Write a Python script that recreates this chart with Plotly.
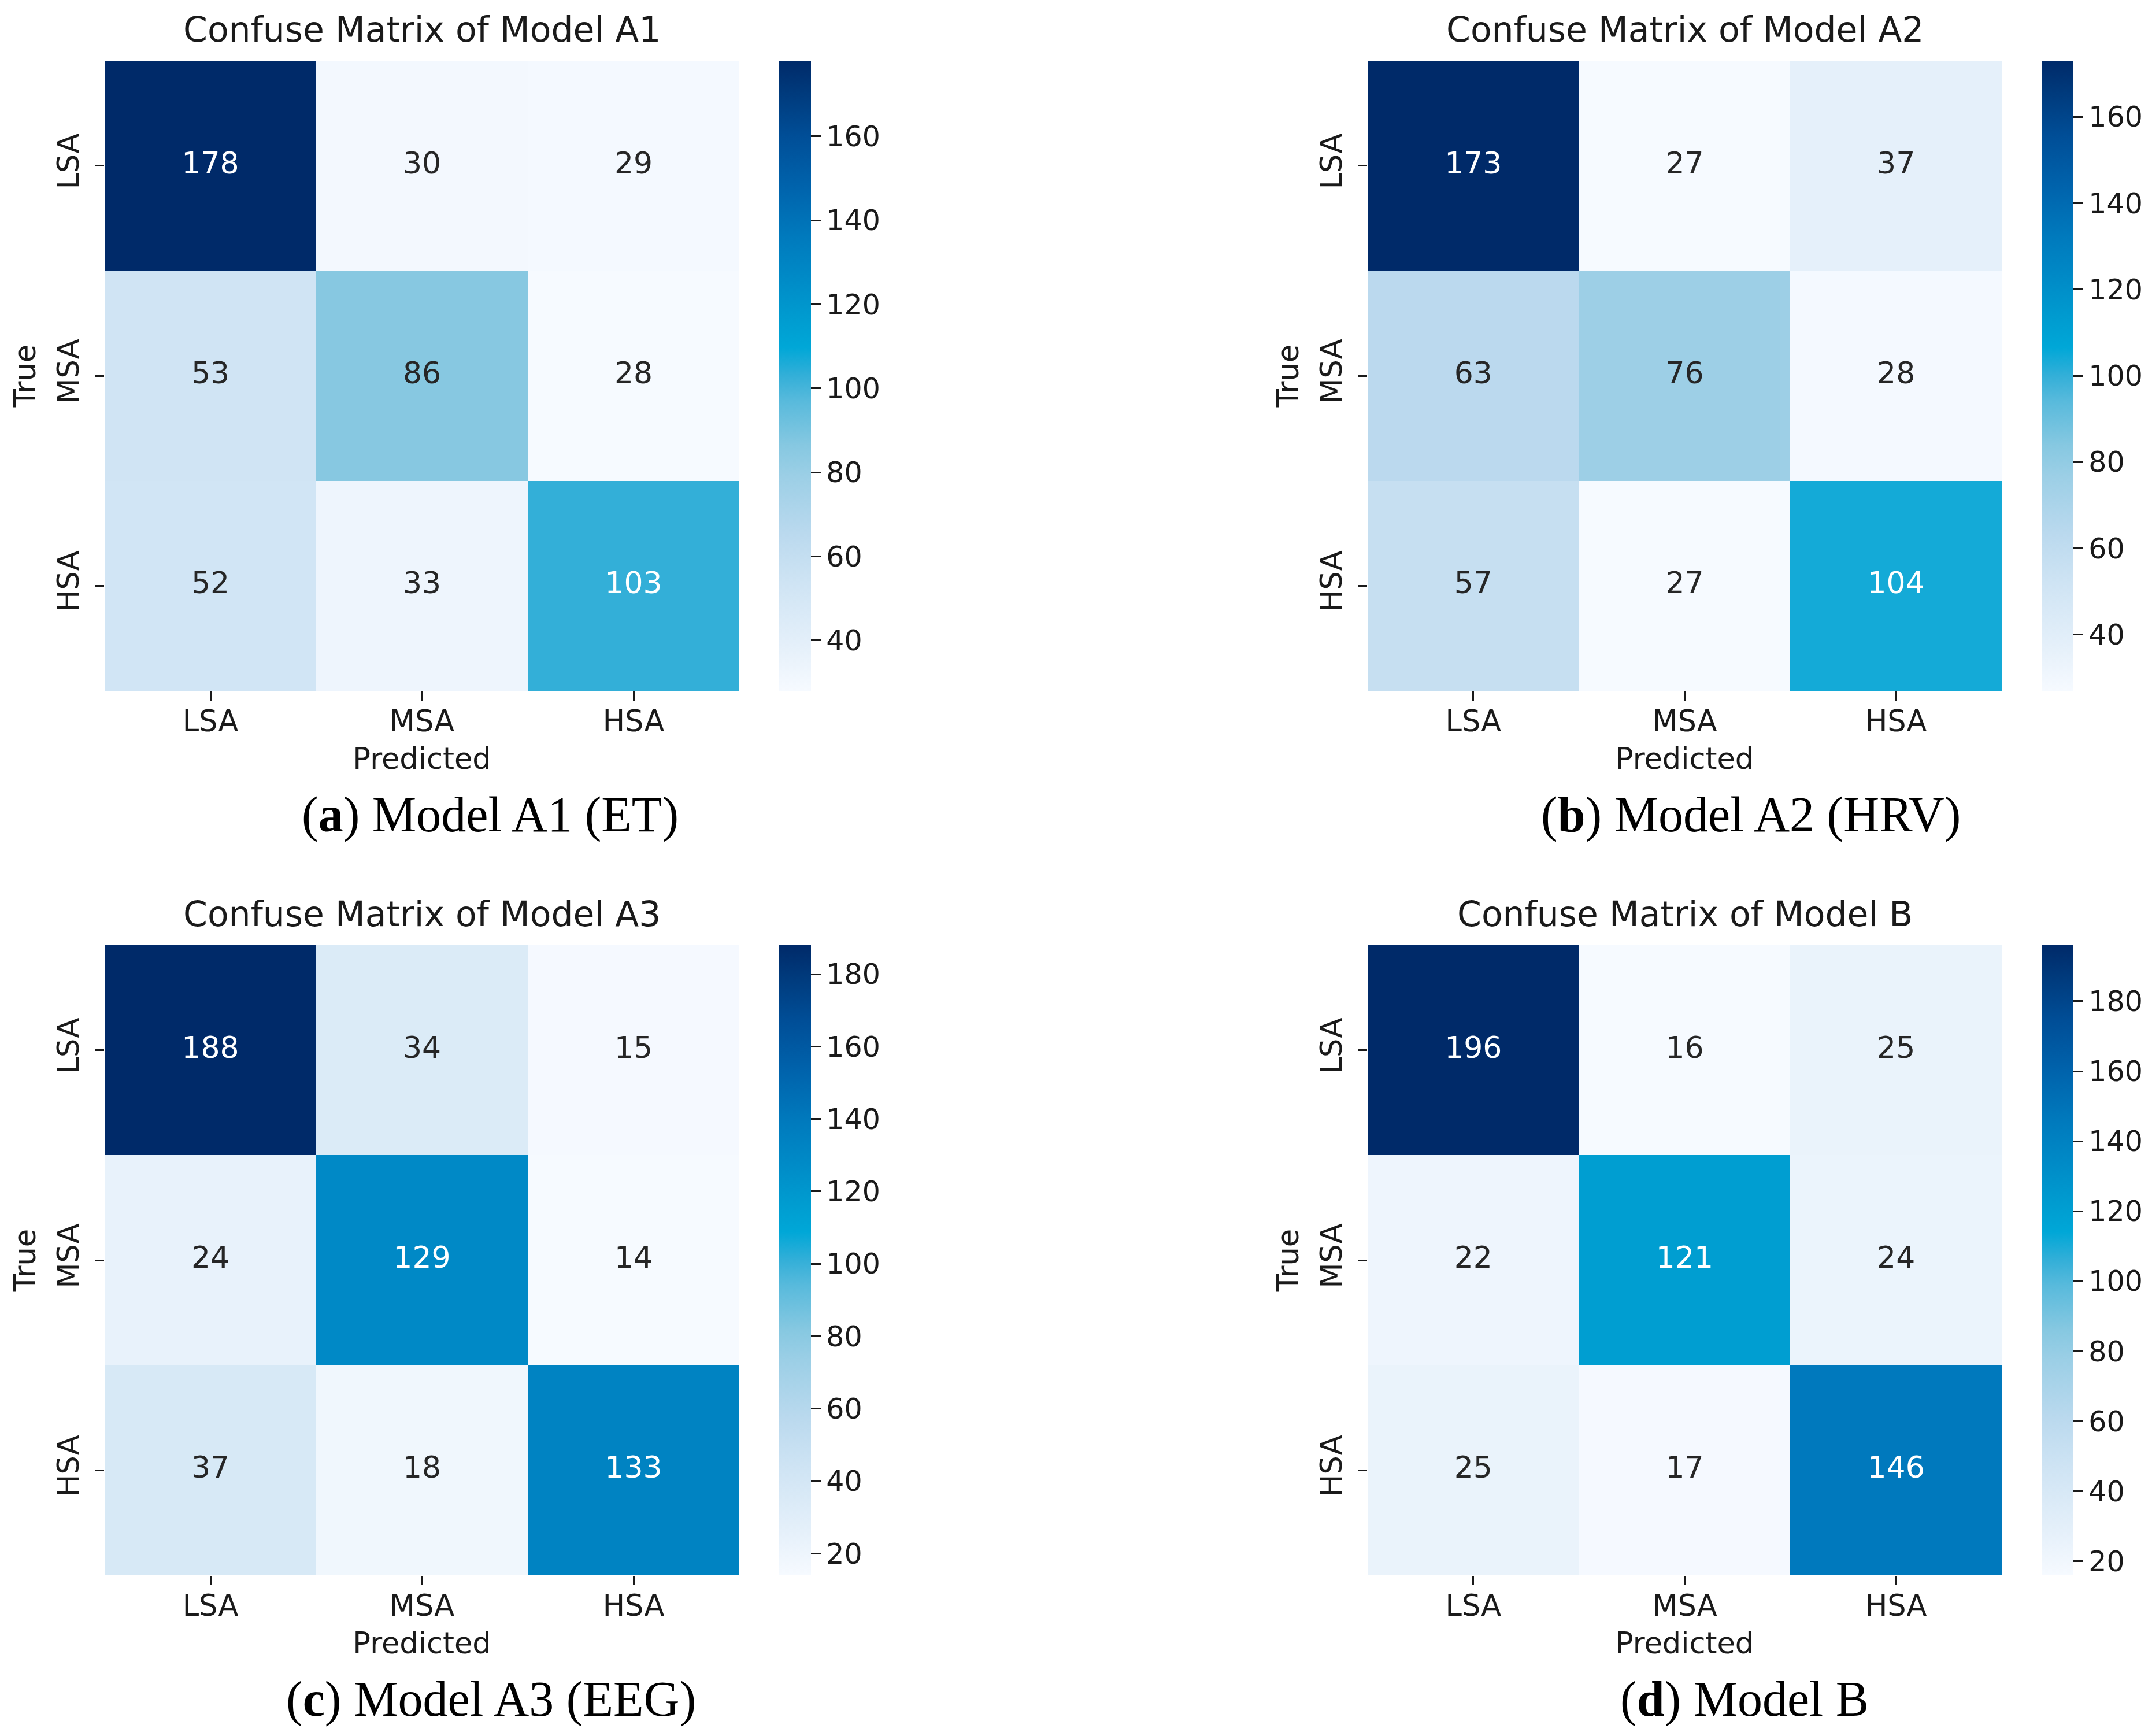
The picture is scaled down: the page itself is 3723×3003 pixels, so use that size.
import plotly.graph_objects as go

# ---------------- data ----------------
labels = ["LSA", "MSA", "HSA"]
cm_a1 = [[178, 30, 29], [53, 86, 28], [52, 33, 103]]
cm_a2 = [[173, 27, 37], [63, 76, 28], [57, 27, 104]]
cm_a3 = [[188, 34, 15], [24, 129, 14], [37, 18, 133]]
cm_b = [[196, 16, 25], [22, 121, 24], [25, 17, 146]]
titles = ["Confuse Matrix of Model A1", "Confuse Matrix of Model A2",
          "Confuse Matrix of Model A3", "Confuse Matrix of Model B"]
captions = ["(<b>a</b>) Model A1 (ET)", "(<b>b</b>) Model A2 (HRV)",
            "(<b>c</b>) Model A3 (EEG)", "(<b>d</b>) Model B"]
matrices = [cm_a1, cm_a2, cm_a3, cm_b]

# ---------------- style / layout ----------------
W, H = 3723, 3003
SANS = "DejaVu Sans"
SERIF = "Liberation Serif"
TXT = "#1a1a1a"

colorscale = [
    [0.0, "#f6faff"], [0.07, "#e5f0fa"], [0.17, "#cfe4f4"], [0.25, "#bad9ee"],
    [0.34, "#9ccfe6"], [0.39, "#86c8e1"], [0.46, "#58badc"], [0.50, "#33afd8"],
    [0.545, "#00a7d7"], [0.59, "#009cd0"], [0.66, "#0089c6"], [0.72, "#007abd"],
    [0.80, "#0063ac"], [0.88, "#004e97"], [0.95, "#003a7c"], [1.0, "#002a69"],
]

# pixel boxes of each heatmap: (left, right, top, bottom)
boxes = [(173, 1271, 97, 1187), (2358, 3455, 97, 1187),
         (173, 1271, 1627, 2717), (2358, 3455, 1627, 2717)]
cbar_left = [1340, 3524, 1340, 3524]
title_y = [43, 43, 1573, 1573]
caption_y = [1401, 1401, 2931, 2931]
caption_x = [840, 3021, 841, 3010]


def px(x):
    return x / W


def py(y):
    return 1 - y / H


fig = go.Figure()
annotations = []

for i, (cm, box) in enumerate(zip(matrices, boxes)):
    l, r, t, b = box
    xa = "x" if i == 0 else f"x{i+1}"
    ya = "y" if i == 0 else f"y{i+1}"
    flat = [v for row in cm for v in row]
    zmin, zmax = min(flat), max(flat)
    fig.add_trace(go.Heatmap(
        z=cm, x=labels, y=labels, xaxis=xa, yaxis=ya,
        zmin=zmin, zmax=zmax, colorscale=colorscale, xgap=0, ygap=0,
        hoverinfo="skip",
        colorbar=dict(
            x=px(cbar_left[i]), xanchor="left", xpad=0, ypad=0,
            y=py((t + b) / 2), yanchor="middle",
            len=b - t, lenmode="pixels", thickness=55, thicknessmode="pixels",
            outlinewidth=0, ticks="outside", ticklen=17, tickwidth=3,
            tickcolor=TXT, tickmode="linear", tick0=0, dtick=20,
            tickfont=dict(family=SANS, size=49, color=TXT),
        ),
    ))
    # cell annotations (text colour by cell brightness)
    xs, ys, txt, cols = [], [], [], []
    for ri, row in enumerate(cm):
        for ci, v in enumerate(row):
            xs.append(labels[ci])
            ys.append(labels[ri])
            txt.append(str(v))
            norm = (v - zmin) / (zmax - zmin)
            cols.append("#ffffff" if norm > 0.45 else "#262626")
    fig.add_trace(go.Scatter(
        x=xs, y=ys, text=txt, mode="text", xaxis=xa, yaxis=ya,
        textfont=dict(family=SANS, size=52, color=cols),
        hoverinfo="skip", showlegend=False,
    ))
    axkey = "xaxis" if i == 0 else f"xaxis{i+1}"
    aykey = "yaxis" if i == 0 else f"yaxis{i+1}"
    fig.update_layout(**{
        axkey: dict(
            domain=[px(l), px(r)], anchor=ya, type="category",
            range=[-0.5, 2.5], showgrid=False, zeroline=False, showline=False,
            ticks="outside", ticklen=16, tickwidth=3, tickcolor=TXT,
            ticklabelstandoff=-8,
            tickfont=dict(family=SANS, size=51, color=TXT),
            title=dict(text="Predicted", font=dict(family=SANS, size=51, color=TXT),
                       standoff=18),
        ),
        aykey: dict(
            domain=[py(b), py(t)], anchor=xa, type="category",
            range=[2.5, -0.5], showgrid=False, zeroline=False, showline=False,
            ticks="outside", ticklen=16, tickwidth=3, tickcolor=TXT,
            tickangle=-90, ticklabelstandoff=8,
            tickfont=dict(family=SANS, size=51, color=TXT),
            title=dict(text="True", font=dict(family=SANS, size=51, color=TXT),
                       standoff=10),
        ),
    })
    annotations.append(dict(
        text=titles[i], x=px((l + r) / 2), y=py(title_y[i]), xref="paper",
        yref="paper", xanchor="center", yanchor="middle", showarrow=False,
        font=dict(family=SANS, size=60, color=TXT),
    ))
    annotations.append(dict(
        text=captions[i], x=px(caption_x[i]), y=py(caption_y[i]), xref="paper",
        yref="paper", xanchor="center", yanchor="middle", showarrow=False,
        font=dict(family=SERIF, size=86, color="#000000"),
    ))

fig.update_layout(
    width=W, height=H, margin=dict(l=0, r=0, t=0, b=0),
    paper_bgcolor="white", plot_bgcolor="white", showlegend=False,
    annotations=annotations,
)

fig.write_html("out.html")
